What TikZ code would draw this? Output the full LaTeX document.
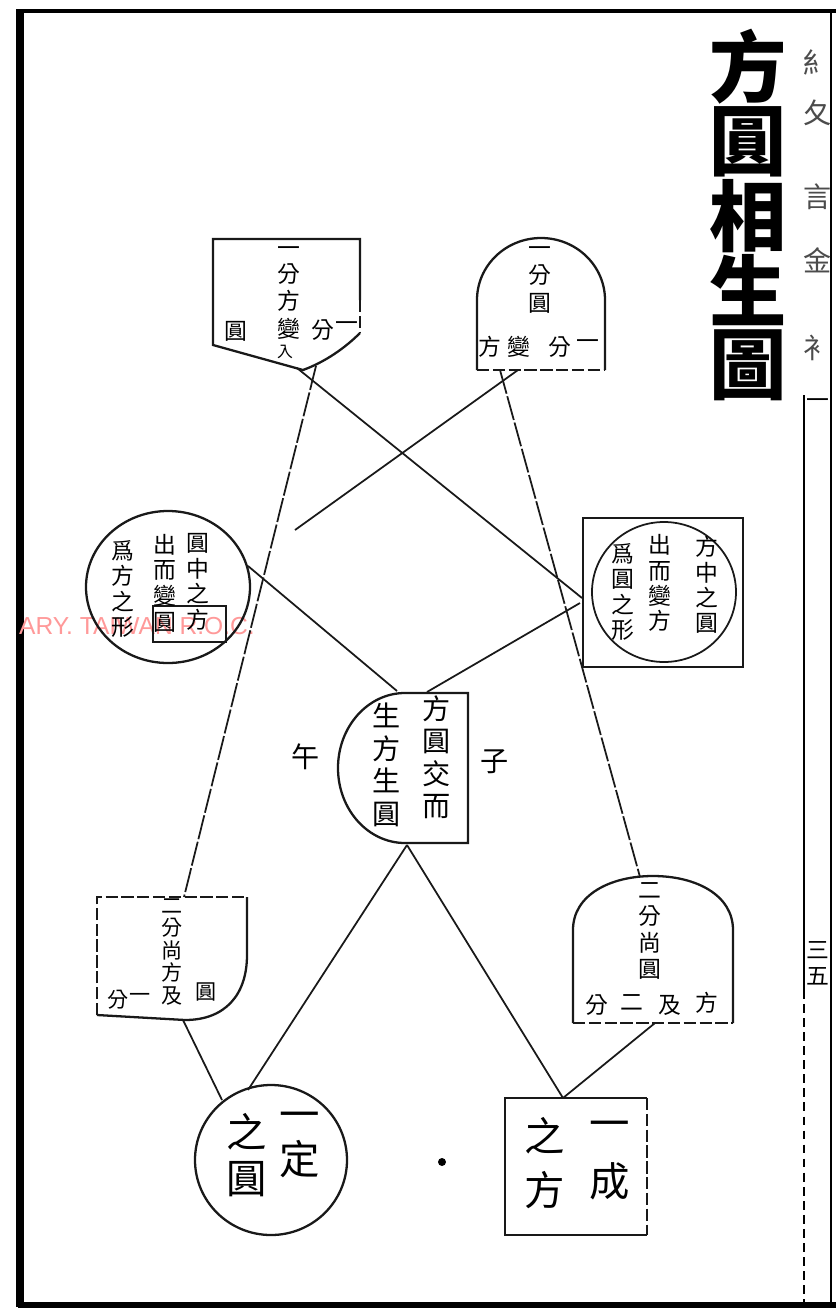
\documentclass[tikz,border=0pt]{standalone}
\usepackage{fontspec}
\usepackage{tikz}
\newfontfamily\cjk{Noto Sans CJK TC}
\newfontfamily\latinsans{Liberation Sans}
\tikzset{
    ink-line/.style = {draw=black!90, line width=1pt},
    worn-line/.style = {ink-line, dash pattern=on 14pt off 1.5pt},
    ink-frame/.style = {draw=black!90, line width=1.3pt},
    broken-frame/.style = {ink-frame, dash pattern=on 7pt off 2pt},
    page-rule/.style = {draw=black, line width=#1},
    glyph/.style = {font=\cjk\fontsize{13}{15}\selectfont, inner sep=0pt, align=center},
    glyph-small/.style = {font=\cjk\fontsize{12}{12.8}\selectfont, inner sep=0pt, align=center},
    glyph-mid/.style = {font=\cjk\fontsize{16}{18.5}\selectfont, inner sep=0pt, align=center},
    glyph-big/.style = {font=\cjk\fontsize{23}{26}\selectfont, inner sep=0pt, align=center},
    margin-glyph/.style = {font=\cjk\fontsize{16}{16}\selectfont, inner sep=0pt, text=black!70},
    title-text/.style = {font=\cjk\bfseries\fontsize{44}{41.6}\selectfont, inner sep=0pt, align=center},
}

\begin{document}
\begin{tikzpicture}[x=0.02cm, y=-0.02cm]
\useasboundingbox (0,0) rectangle (836,1316);
\fill[white] (0,0) rectangle (836,1316);

% page rules
\draw[page-rule=4.5pt] (20,9) -- (20,1307);
\draw[page-rule=2.2pt] (18,11) -- (836,11);
\draw[page-rule=3pt] (18,1305) -- (836,1305);
\draw[page-rule=1.5pt] (831,11) -- (831,1305);
\draw[page-rule=1pt] (804,395) -- (804,990);
\draw[page-rule=1pt, dash pattern=on 5pt off 3pt] (804,990) -- (804,1305);

\node[text=red!40, font=\latinsans\fontsize{14}{14}\selectfont, inner sep=0pt] (stamp-text) at (137,626) {ARY. TAIWAN R.O.C.};

% title and margin
\node[title-text] (title) at (748,215) {方\\圓\\相\\生\\圖};
\node[margin-glyph] (margin-1) at (818,62) {糹};
\node[margin-glyph] (margin-2) at (818,113) {夂};
\node[margin-glyph] (margin-3) at (818,197) {言};
\node[margin-glyph] (margin-4) at (818,260) {金};
\node[margin-glyph] (margin-5) at (818,348) {衤};
\node[glyph] (margin-yi) at (818,404) {一};
\node[glyph] (margin-num) at (818,963) {三\\五};

% top left
\draw[ink-frame] (360,300) -- (360,239) -- (213,239) -- (213,345) -- (303,370) .. controls (325,362) and (345,348) .. (360,333);
\draw[broken-frame] (360,300) -- (360,333);
\node[glyph] (tl-col) at (289,279) {一\\分\\方};
\node[glyph] (tl-yuan) at (236,331) {圓};
\node[glyph] (tl-bian) at (289,329) {變};
\node[glyph, font=\cjk\fontsize{9}{9}\selectfont] (tl-ru) at (285,352) {入};
\node[glyph] (tl-fen) at (323,330) {分};
\node[glyph] (tl-yi) at (347,327) {一};
\coordinate (tl-a) at (297,368);
\coordinate (tl-b) at (316,366);

% top middle
\draw[ink-frame] (477,370) -- (477,300) arc[start angle=180, end angle=360, x radius=64, y radius=62] -- (605,370);
\draw[broken-frame] (477,370) -- (605,370);
\node[glyph, font=\cjk\fontsize{13}{15.5}\selectfont] (tm-col) at (540,280) {一\\分\\圓};
\node[glyph] (tm-fang) at (490,347) {方};
\node[glyph] (tm-bian) at (519,347) {變};
\node[glyph] (tm-fen) at (560,347) {分};
\node[glyph] (tm-yi) at (588,345) {一};
\coordinate (tm-a) at (518,370);
\coordinate (tm-b) at (500,370);

% left middle
\draw[ink-frame] (168,587) ellipse [x radius=82, y radius=76];
\draw[ink-line] (153,606) rectangle (226,642);
\node[glyph, font=\cjk\fontsize{13}{14.6}\selectfont] (lm-right) at (198,582) {圓\\中\\之\\方};
\node[glyph, font=\cjk\fontsize{13}{14.6}\selectfont] (lm-mid) at (165,583) {出\\而\\變\\圓};
\node[glyph, font=\cjk\fontsize{13}{14.6}\selectfont] (lm-left) at (123,589) {爲\\方\\之\\形};
\coordinate (lm-e) at (248,566);
\coordinate (lm-free) at (295,530);

% right middle
\draw[ink-frame] (583,518) rectangle (743,667);
\draw[ink-line] (664,592) ellipse [x radius=72, y radius=70];
\node[glyph, font=\cjk\fontsize{13}{14.4}\selectfont] (rm-right) at (707,585) {方\\中\\之\\圓};
\node[glyph, font=\cjk\fontsize{13}{14.4}\selectfont] (rm-mid) at (660,583) {出\\而\\變\\方};
\node[glyph, font=\cjk\fontsize{13}{14.4}\selectfont] (rm-left) at (623,592) {爲\\圓\\之\\形};
\coordinate (rm-w) at (582,598);
\coordinate (rm-sw) at (580,603);

% centre
\draw[ink-frame] (405,693) -- (468,693) -- (468,843) -- (405,843) arc[start angle=90, end angle=270, x radius=67, y radius=75];
\node[glyph-mid] (ct-right) at (437,757) {方\\圓\\交\\而};
\node[glyph-mid] (ct-left) at (387,765) {生\\方\\生\\圓};
\node[glyph-mid] (wu) at (306,757) {午};
\node[glyph-mid] (zi) at (495,762) {子};
\coordinate (ct-nw) at (397,691);
\coordinate (ct-ne) at (427,692);
\coordinate (ct-s) at (407,845);

% bottom left
\draw[broken-frame] (97,1015) -- (97,897) -- (247,897);
\draw[ink-frame] (247,897) -- (247,955) .. controls (247,995) and (225,1020) .. (185,1020) -- (97,1015);
\node[glyph-small] (bl-col) at (172,952) {二\\分\\尚\\方\\及};
\node[glyph-small] (bl-yuan) at (206,992) {圓};
\node[glyph-small] (bl-fen) at (118,1000) {分};
\node[glyph-small] (bl-yi) at (140,998) {一};
\coordinate (bl-n) at (184,897);
\coordinate (bl-s) at (183,1020);

% bottom right
\draw[ink-frame] (573,1023) -- (573,930) .. controls (573,895) and (610,876) .. (653,876) .. controls (696,876) and (733,895) .. (733,930) -- (733,1023);
\draw[broken-frame] (573,1023) -- (733,1023);
\node[glyph] (br-col) at (650,931) {二\\分\\尚\\圓};
\node[glyph] (br-fen) at (597,1005) {分};
\node[glyph] (br-er) at (632,1003) {二};
\node[glyph] (br-ji) at (670,1005) {及};
\node[glyph] (br-fang) at (707,1003) {方};
\coordinate (br-n) at (640,877);
\coordinate (br-s) at (655,1023);

% bottom circle and square
\draw[ink-frame] (271,1160) ellipse [x radius=76, y radius=75];
\node[glyph-big] (bc-right) at (300,1145) {一\\定};
\node[glyph-big] (bc-left) at (247,1155) {之\\圓};
\coordinate (bc-n) at (248,1090);
\coordinate (bc-nw) at (222,1100);

\draw[ink-frame] (647,1235) -- (505,1235) -- (505,1098) -- (647,1098);
\draw[broken-frame] (647,1098) -- (647,1235);
\node[glyph-big, font=\cjk\fontsize{23}{33}\selectfont] (bs-right) at (610,1161) {一\\成};
\node[glyph-big, font=\cjk\fontsize{23}{31}\selectfont] (bs-left) at (545,1163) {之\\方};
\coordinate (bs-n) at (563,1098);

\fill (442,1162) circle [radius=4] node (dot) {};

% connectors
\draw[ink-line] (tl-a) -- (rm-w);
\draw[worn-line] (tl-b) -- (bl-n);
\draw[ink-line] (tm-a) -- (lm-free);
\draw[worn-line] (tm-b) -- (br-n);
\draw[ink-line] (lm-e) -- (ct-nw);
\draw[ink-line] (rm-sw) -- (ct-ne);
\draw[ink-line] (ct-s) -- (bc-n);
\draw[ink-line] (ct-s) -- (bs-n);
\draw[ink-line] (bl-s) -- (bc-nw);
\draw[ink-line] (br-s) -- (bs-n);
\end{tikzpicture}
\end{document}
